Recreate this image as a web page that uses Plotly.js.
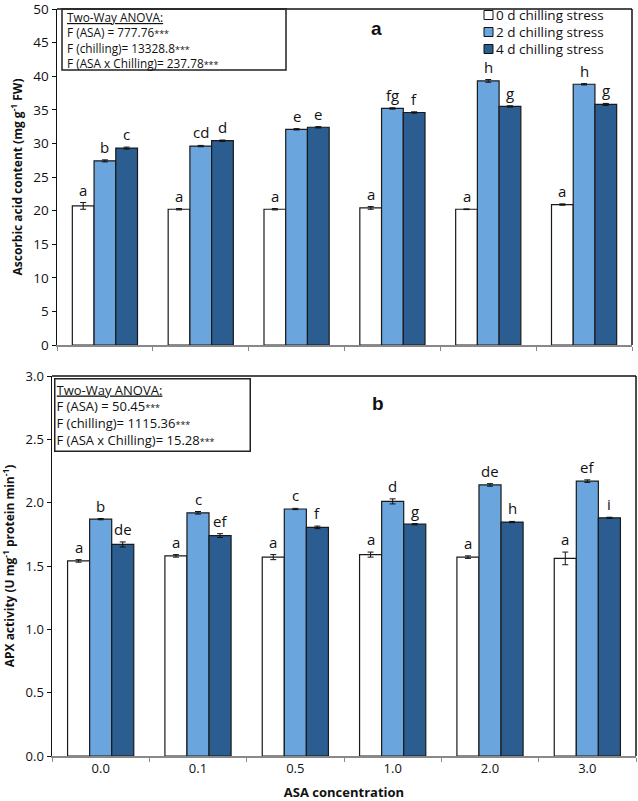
<!DOCTYPE html>
<html>
<head>
<meta charset="utf-8">
<script src="https://cdn.plot.ly/plotly-3.0.1.min.js"></script>
<style>html,body{margin:0;padding:0;background:#fff;}#chart{width:638px;height:801px;}</style>
</head>
<body>
<div id="chart"></div>
<script>
// ---- data ----
const categories = ['0.0', '0.1', '0.5', '1.0', '2.0', '3.0'];
const seriesNames = ['0 d chilling stress', '2 d chilling stress', '4 d chilling stress'];

// Panel a: ascorbic acid content (mg g-1 FW)
const asa0d = [20.7, 20.2, 20.2, 20.4, 20.2, 20.9];
const asa0dErr = [0.5, 0.1, 0.1, 0.2, 0.05, 0.1];
const asa2d = [27.4, 29.6, 32.1, 35.2, 39.3, 38.8];
const asa2dErr = [0.15, 0.1, 0.1, 0.1, 0.2, 0.1];
const asa4d = [29.3, 30.4, 32.4, 34.6, 35.5, 35.8];
const asa4dErr = [0.15, 0.1, 0.1, 0.1, 0.1, 0.15];
const asaLetters0 = ['a', 'a', 'a', 'a', 'a', 'a'];
const asaLetters2 = ['b', 'cd', 'e', 'fg', 'h', 'h'];
const asaLetters4 = ['c', 'd', 'e', 'f', 'g', 'g'];
const asaAnova = ['F (ASA) = 777.76', 'F (chilling)= 13328.8', 'F (ASA x Chilling)= 237.78'];

// Panel b: APX activity (U mg-1 protein min-1)
const apx0d = [1.54, 1.58, 1.57, 1.59, 1.57, 1.56];
const apx0dErr = [0.01, 0.01, 0.02, 0.02, 0.01, 0.05];
const apx2d = [1.87, 1.92, 1.95, 2.01, 2.14, 2.17];
const apx2dErr = [0.005, 0.01, 0.005, 0.02, 0.01, 0.01];
const apx4d = [1.67, 1.74, 1.805, 1.83, 1.847, 1.88];
const apx4dErr = [0.02, 0.015, 0.01, 0.005, 0.005, 0.005];
const apxLetters0 = ['a', 'a', 'a', 'a', 'a', 'a'];
const apxLetters2 = ['b', 'c', 'c', 'd', 'de', 'ef'];
const apxLetters4 = ['de', 'ef', 'f', 'g', 'h', 'i'];
const apxAnova = ['F (ASA) = 50.45', 'F (chilling)= 1115.36', 'F (ASA x Chilling)= 15.28'];

// ---- styles ----
const colors = ['#ffffff', '#6ba5de', '#2b5d90'];
const FONT = '"Open Sans", "DejaVu Sans", sans-serif';
const W = 638, H = 801;
const px = v => v / W;
const py = v => 1 - v / H;
const STARS = '<span style="font-size:9px">***</span>';
const BARGAP = 0.32;

function barTrace(name, y, err, color, xa, ya) {
  return {
    type: 'bar', name: name, x: categories, y: y,
    xaxis: xa, yaxis: ya, showlegend: false,
    marker: {color: color, line: {color: '#1a1a1a', width: 1.2}},
    error_y: {type: 'data', array: err, visible: true, color: '#111', thickness: 1, width: 3},
    hoverinfo: 'skip'
  };
}

const data = [
  barTrace(seriesNames[0], asa0d, asa0dErr, colors[0], 'x', 'y'),
  barTrace(seriesNames[1], asa2d, asa2dErr, colors[1], 'x', 'y'),
  barTrace(seriesNames[2], asa4d, asa4dErr, colors[2], 'x', 'y'),
  barTrace(seriesNames[0], apx0d, apx0dErr, colors[0], 'x2', 'y2'),
  barTrace(seriesNames[1], apx2d, apx2dErr, colors[1], 'x2', 'y2'),
  barTrace(seriesNames[2], apx4d, apx4dErr, colors[2], 'x2', 'y2')
];

const tickFont = {family: FONT, size: 13.5, color: '#111'};
const axTitleFont = {family: FONT, size: 12, color: '#111', weight: 'bold'};

const topDom = [py(345), py(9)];
const botDom = [py(756), py(376)];
const topX = [px(57), px(632)];
const botX = [px(52), px(636)];

const shapes = [
  {type: 'line', xref: 'x domain', yref: 'y domain', x0: 0, x1: 1, y0: 1, y1: 1, line: {color: '#111', width: 1.5}},
  {type: 'line', xref: 'x domain', yref: 'y domain', x0: 1, x1: 1, y0: 0, y1: 1, line: {color: '#111', width: 1.5}},
  {type: 'line', xref: 'x2 domain', yref: 'y2 domain', x0: 0, x1: 1, y0: 1, y1: 1, line: {color: '#111', width: 1.5}},
  {type: 'line', xref: 'x2 domain', yref: 'y2 domain', x0: 1, x1: 1, y0: 0, y1: 1, line: {color: '#111', width: 1.5}},
  // ANOVA box, panel a
  {type: 'rect', xref: 'paper', yref: 'paper', x0: px(62), x1: px(286), y0: py(70), y1: py(9),
   line: {color: '#222', width: 1.5}, fillcolor: 'rgba(255,255,255,0)'}
];

const annotations = [
  {xref: 'paper', yref: 'paper', x: px(376), y: py(29), xanchor: 'center', yanchor: 'middle', text: '<b>a</b>', showarrow: false,
   font: {family: 'Liberation Sans, Arial, sans-serif', size: 19, color: '#111'}},
  {xref: 'paper', yref: 'paper', x: px(378), y: py(403), xanchor: 'center', yanchor: 'middle', text: '<b>b</b>', showarrow: false,
   font: {family: 'Liberation Sans, Arial, sans-serif', size: 19, color: '#111'}},
  // ANOVA panel a
  {xref: 'paper', yref: 'paper', x: px(65), y: py(39.5), xanchor: 'left', yanchor: 'middle', align: 'left',
   showarrow: false, font: {family: FONT, size: 11.8, color: '#111'},
   text: '<u>Two-Way ANOVA:</u><br>' + asaAnova.map(s => s + STARS).join('<br>')},
  // ANOVA panel b (bordered box)
  {xref: 'paper', yref: 'paper', x: px(54), y: py(378), xanchor: 'left', yanchor: 'top', align: 'left',
   width: 192, borderpad: 1, bordercolor: '#222', borderwidth: 1.5, bgcolor: '#fff', showarrow: false,
   font: {family: FONT, size: 13, color: '#111'},
   text: '<u>Two-Way ANOVA:</u><br>' + apxAnova.map(s => s + STARS).join('<br>')}
];

// significance letters above each bar (+ error bar), placed through the axes
// (category axis: position i is the i-th category)
function addLetters(letters, vals, errs, series, xa, ya, domX) {
  const catW = (domX[1] - domX[0]) * W / categories.length;
  const barW = catW * (1 - BARGAP) / 3;
  letters.forEach((t, i) => annotations.push({
    xref: xa, yref: ya, x: i, y: vals[i] + errs[i],
    xshift: (series - 1) * barW, yshift: 1, xanchor: 'center', yanchor: 'bottom',
    text: t, showarrow: false, font: {family: FONT, size: 15, color: '#111'}
  }));
}
addLetters(asaLetters0, asa0d, asa0dErr, 0, 'x', 'y', topX);
addLetters(asaLetters2, asa2d, asa2dErr, 1, 'x', 'y', topX);
addLetters(asaLetters4, asa4d, asa4dErr, 2, 'x', 'y', topX);
addLetters(apxLetters0, apx0d, apx0dErr, 0, 'x2', 'y2', botX);
addLetters(apxLetters2, apx2d, apx2dErr, 1, 'x2', 'y2', botX);
addLetters(apxLetters4, apx4d, apx4dErr, 2, 'x2', 'y2', botX);

// Legend (panel a)
const legendY = [15, 32, 49];
seriesNames.forEach((n, i) => {
  shapes.push({type: 'rect', xref: 'paper', yref: 'paper',
    x0: px(484), x1: px(493), y0: py(legendY[i] + 4.5), y1: py(legendY[i] - 4.5),
    fillcolor: colors[i], line: {color: '#111', width: 1}});
  annotations.push({xref: 'paper', yref: 'paper', x: px(495), y: py(legendY[i]), xanchor: 'left', yanchor: 'middle',
    text: n, showarrow: false, borderpad: 0, font: {family: FONT, size: 13.5, color: '#111'}});
});

const layout = {
  width: W, height: H,
  margin: {l: 0, r: 0, t: 0, b: 0},
  paper_bgcolor: '#fff', plot_bgcolor: '#fff',
  barmode: 'group', bargap: BARGAP, bargroupgap: 0,
  showlegend: false,
  xaxis: {
    domain: topX, anchor: 'y', type: 'category',
    showticklabels: false, ticks: 'outside', tickson: 'boundaries', ticklen: 4,
    tickcolor: '#888', showline: true, linecolor: '#888', linewidth: 1.5,
    showgrid: false, zeroline: false
  },
  yaxis: {
    domain: topDom, anchor: 'x', range: [0, 50], dtick: 5,
    ticks: 'outside', ticklen: 4, tickcolor: '#111', ticklabeloverflow: 'allow',
    showline: true, linecolor: '#111', linewidth: 1.5,
    showgrid: false, zeroline: false, tickfont: tickFont,
    title: {text: 'Ascorbic acid content (mg g<sup>-1</sup> FW)', font: axTitleFont, standoff: 8}
  },
  xaxis2: {
    domain: botX, anchor: 'y2', type: 'category',
    ticks: 'outside', tickson: 'boundaries', ticklen: 4,
    tickcolor: '#888', showline: true, linecolor: '#888', linewidth: 1.5,
    showgrid: false, zeroline: false, tickfont: {family: FONT, size: 13, color: '#111'},
    title: {text: 'ASA concentration', font: {family: FONT, size: 13, color: '#111', weight: 'bold'}, standoff: 12}
  },
  yaxis2: {
    domain: botDom, anchor: 'x2', range: [0, 3], dtick: 0.5, tickformat: '.1f',
    ticks: 'outside', ticklen: 4, tickcolor: '#111', ticklabeloverflow: 'allow',
    showline: true, linecolor: '#111', linewidth: 1.5,
    showgrid: false, zeroline: false, tickfont: {family: FONT, size: 13, color: '#111'},
    title: {text: 'APX activity (U mg<sup>-1</sup> protein min<sup>-1</sup>)', font: axTitleFont, standoff: 8}
  },
  shapes: shapes,
  annotations: annotations
};

Plotly.newPlot('chart', data, layout, {displayModeBar: false, staticPlot: true});
</script>
</body>
</html>
